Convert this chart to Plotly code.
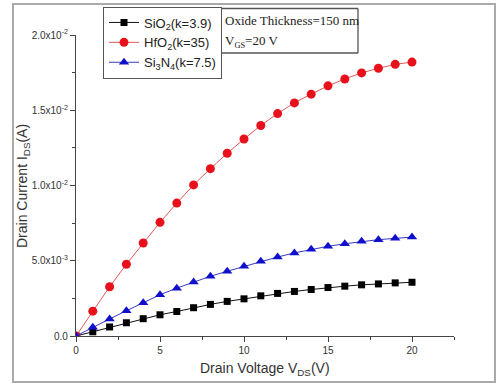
import plotly.graph_objects as go

vds = list(range(0, 21))
sio2 = [0, 2.8e-4, 6.0e-4, 8.8e-4, 1.15e-3, 1.41e-3, 1.63e-3, 1.88e-3, 2.10e-3, 2.30e-3, 2.47e-3,
        2.67e-3, 2.83e-3, 2.96e-3, 3.09e-3, 3.22e-3, 3.31e-3, 3.40e-3, 3.46e-3, 3.53e-3, 3.57e-3]
hfo2 = [0, 1.65e-3, 3.27e-3, 4.77e-3, 6.18e-3, 7.55e-3, 8.83e-3, 1.004e-2, 1.112e-2, 1.214e-2, 1.309e-2,
        1.399e-2, 1.478e-2, 1.549e-2, 1.607e-2, 1.662e-2, 1.708e-2, 1.748e-2, 1.779e-2, 1.805e-2, 1.82e-2]
si3n4 = [0, 5.8e-4, 1.13e-3, 1.68e-3, 2.21e-3, 2.74e-3, 3.18e-3, 3.58e-3, 3.97e-3, 4.30e-3, 4.63e-3,
         4.96e-3, 5.25e-3, 5.52e-3, 5.76e-3, 5.96e-3, 6.13e-3, 6.29e-3, 6.40e-3, 6.49e-3, 6.57e-3]

names = ["SiO<sub>2</sub>(k=3.9)", "HfO<sub>2</sub>(k=35)", "Si<sub>3</sub>N<sub>4</sub>(k=7.5)"]
y_tickvals = [0, 0.005, 0.01, 0.015, 0.02]
y_ticktext = ["0.0", "5.0x10<sup>-3</sup>", "1.0x10<sup>-2</sup>", "1.5x10<sup>-2</sup>", "2.0x10<sup>-2</sup>"]
x_tickvals = [0, 5, 10, 15, 20]

L, R, T, B = 76, 42, 35, 49
W, H = 496, 385
PW, PH = W - L - R, H - T - B


def px(xp):
    return (xp - L) / PW


def py(yp):
    return (H - B - yp) / PH


fig = go.Figure()
fig.add_trace(go.Scatter(x=vds, y=sio2, name=names[0], mode="lines+markers",
                         line=dict(color="#111111", width=1),
                         marker=dict(symbol="square", size=7, color="#000000")))
fig.add_trace(go.Scatter(x=vds, y=hfo2, name=names[1], mode="lines+markers",
                         line=dict(color="#e05a5a", width=1),
                         marker=dict(symbol="circle", size=9, color="#e8101a")))
fig.add_trace(go.Scatter(x=vds, y=si3n4, name=names[2], mode="lines+markers",
                         line=dict(color="#3a3ac0", width=1),
                         marker=dict(symbol="triangle-up", size=9, color="#1010cc")))

axis_common = dict(showline=True, linecolor="#444444", linewidth=1.2, showgrid=False,
                   zeroline=False, ticks="outside", tickcolor="#444444", ticklen=5,
                   tickfont=dict(family="Liberation Sans, Arial", size=10, color="#333333"))

fig.update_xaxes(range=[0, 22.5], tickvals=x_tickvals, ticktext=[str(v) for v in x_tickvals],
                 minor=dict(ticks="outside", ticklen=3, tickcolor="#444444", dtick=2.5, tick0=0),
                 **axis_common)
fig.update_yaxes(range=[0, 0.02], tickvals=y_tickvals, ticktext=y_ticktext,
                 minor=dict(ticks="outside", ticklen=3, tickcolor="#444444", dtick=0.0025, tick0=0),
                 **axis_common)

serif = dict(family="Liberation Serif, Times New Roman", size=13, color="#222222")

# note box edges (pixel positions)
bx0, bx1, by0, by1 = 220, 358, 8.5, 53
box_line = dict(color="#555555", width=1.3)
box_edges = [
    (bx0, by0, bx1, by0),
    (bx0, by1, bx1, by1),
    (bx0, by0, bx0, by1),
    (bx1, by0, bx1, by1),
]

fig.update_layout(
    width=W, height=H,
    margin=dict(l=L, r=R, t=T, b=B, autoexpand=False),
    plot_bgcolor="rgba(0,0,0,0)", paper_bgcolor="white",
    showlegend=True,
    legend=dict(x=px(103), y=py(6.5), xanchor="left", yanchor="top",
                bgcolor="white", bordercolor="#555555", borderwidth=1,
                font=dict(family="Liberation Sans, Arial", size=13, color="#222222"),
                tracegroupgap=0),
    annotations=[
        dict(text="Oxide Thickness=150 nm", xref="paper", yref="paper",
             x=px(223), y=py(20), xanchor="left", yanchor="middle", showarrow=False, font=serif),
        dict(text="V<span style='font-size:12px'><sub>GS</sub></span>=20 V", xref="paper", yref="paper",
             x=px(223), y=py(41), xanchor="left", yanchor="middle", showarrow=False, font=serif),
        dict(text="Drain Voltage V<sub>DS</sub>(V)", xref="paper", yref="paper",
             x=px(265), y=py(369), xanchor="center", yanchor="middle", showarrow=False,
             font=dict(family="Liberation Sans, Arial", size=14, color="#333333")),
        dict(text="Drain Current I<sub>DS</sub>(A)", xref="paper", yref="paper",
             x=px(23), y=py(186), xanchor="center", yanchor="middle", showarrow=False, textangle=-90,
             font=dict(family="Liberation Sans, Arial", size=14, color="#333333")),
    ],
    shapes=[
        dict(type="rect", xref="paper", yref="paper", x0=px(13), x1=px(495), y0=py(382), y1=py(4),
             line=dict(color="#aaaaaa", width=2), layer="below"),
    ] + [
        dict(type="line", xref="paper", yref="paper", x0=px(a), y0=py(b), x1=px(c), y1=py(d),
             line=box_line, layer="below")
        for (a, b, c, d) in box_edges
    ],
)

fig.write_html("out.html")
